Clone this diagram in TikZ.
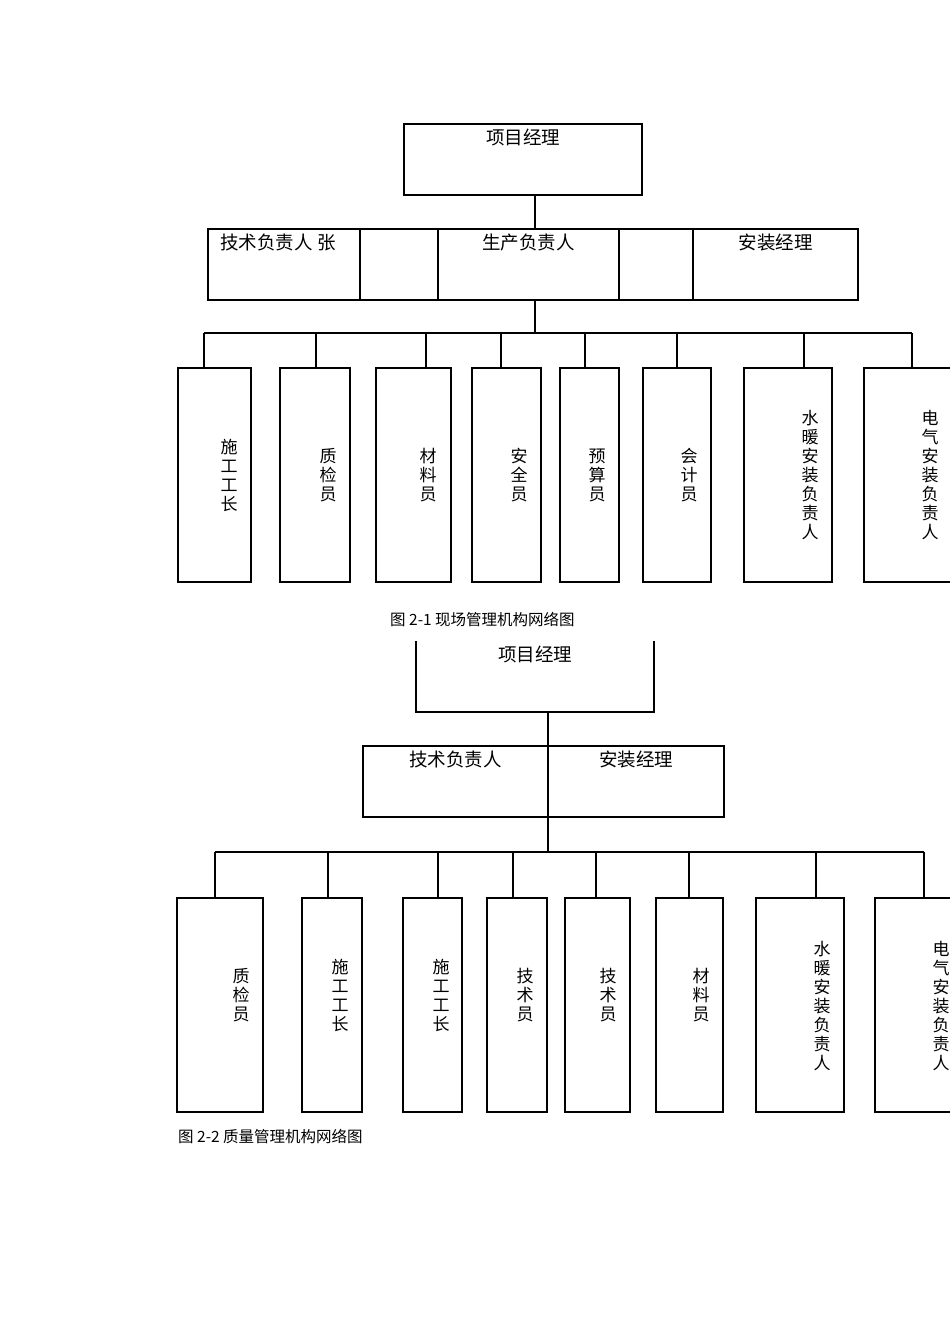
\documentclass[tikz,border=0pt]{standalone}
\usepackage{fontspec}
\setmainfont{Noto Sans CJK SC}
\usetikzlibrary{positioning, calc}

\begin{document}
\begin{tikzpicture}[
		x=1pt, y=-1pt,
		cell/.style={draw, rectangle, inner sep=0pt, outer sep=0pt, anchor=north west, minimum height=71pt},
		post/.style={draw, rectangle, inner sep=0pt, outer sep=0pt, anchor=north west, minimum height=214pt},
		head/.style={anchor=north, inner sep=4pt, font=\fontsize{18.5}{20}\selectfont},
		vlabel/.style={align=center, inner sep=0pt, font=\fontsize{17}{19}\selectfont},
		caption/.style={anchor=west, inner sep=0pt, font=\fontsize{15.5}{17}\selectfont}
		]
		
		\useasboundingbox (0,0) rectangle (950,1344);
		\clip (0,0) rectangle (950,1344);
		
		% Figure 2-1
		\begin{scope}[line width=1.5pt]
		\node[cell, minimum width=238pt] (pmA) at (404,124) {};
		\node[head] (pmAtxt) at (pmA.north) {项目经理};
		
		\node[cell, minimum width=152pt] (techA) at (208,229) {};
		\node[cell, minimum width=78pt] (gapA) at (techA.north east) {};
		\node[cell, minimum width=181pt] (prodA) at (gapA.north east) {};
		\node[cell, minimum width=74pt] (gapB) at (prodA.north east) {};
		\node[cell, minimum width=165pt] (instA) at (gapB.north east) {};
		\node[head, xshift=-6pt] (techAtxt) at (techA.north) {技术负责人 张};
		\node[head] (prodAtxt) at (prodA.north) {生产负责人};
		\node[head] (instAtxt) at (instA.north) {安装经理};
		
		\coordinate (busA) at (535,333);
		\draw (535,0 |- pmA.south) -- (535,0 |- prodA.north);
		\draw (535,0 |- prodA.south) -- (busA);
		\draw (204,0 |- busA) -- (912,0 |- busA);
		
		\foreach \l/\w/\s/\tx/\ty/\txt [count=\i] in {
				178/73/204/229/475/施\\工\\工\\长,
				280/70/316/328/475/质\\检\\员,
				376/75/426/428/475/材\\料\\员,
				472/69/501/519/475/安\\全\\员,
				560/59/585/597/475/预\\算\\员,
				643/68/677/689/475/会\\计\\员,
				744/88/804/810/475/水\\暖\\安\\装\\负\\责\\人,
				864/100/912/930/475/电\\气\\安\\装\\负\\责\\人}{
			\node[post, minimum width=\w pt] (a\i) at (\l,368) {};
			\node[vlabel] (ta\i) at (\tx,\ty) {\txt};
			\draw (\s,0 |- busA) -- (\s,0 |- a\i.north);
		}
		\end{scope}
		
		\node[caption] (capA) at (390,620) {图 2-1 现场管理机构网络图};
		
		% Figure 2-2
		\begin{scope}[line width=1.1pt]
		\node[cell, draw=none, minimum width=238pt] (pmB) at (416,641) {};
		\draw (pmB.north west) -- (pmB.south west) -- (pmB.south east) -- (pmB.north east);
		\node[head] (pmBtxt) at (pmB.north) {项目经理};
		
		\node[cell, minimum width=185pt] (techB) at (363,746) {};
		\node[cell, minimum width=176pt] (instB) at (techB.north east) {};
		\node[head] (techBtxt) at (techB.north) {技术负责人};
		\node[head] (instBtxt) at (instB.north) {安装经理};
		
		\coordinate (busB) at (548,852);
		\draw (548,0 |- pmB.south) -- (busB);
		\draw (215,0 |- busB) -- (924,0 |- busB);
		
		\foreach \l/\w/\s/\tx/\ty/\txt [count=\i] in {
				177/86/215/241/995/质\\检\\员,
				302/60/328/340/995/施\\工\\工\\长,
				403/59/438/441/995/施\\工\\工\\长,
				487/60/513/525/995/技\\术\\员,
				565/65/596/608/995/技\\术\\员,
				656/67/689/701/995/材\\料\\员,
				756/88/816/822/1006/水\\暖\\安\\装\\负\\责\\人,
				875/100/924/941/1006/电\\气\\安\\装\\负\\责\\人}{
			\node[post, minimum width=\w pt] (b\i) at (\l,898) {};
			\node[vlabel] (tb\i) at (\tx,\ty) {\txt};
			\draw (\s,0 |- busB) -- (\s,0 |- b\i.north);
		}
		\end{scope}
		
		\node[caption] (capB) at (178,1137) {图 2-2 质量管理机构网络图};
		
	\end{tikzpicture}
\end{document}
